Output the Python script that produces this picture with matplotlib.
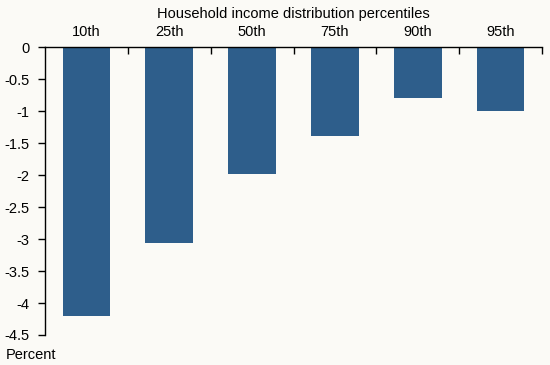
import matplotlib
matplotlib.use("Agg")
import matplotlib.pyplot as plt
from matplotlib.ticker import FuncFormatter

# data
categories = ["10th", "25th", "50th", "75th", "90th", "95th"]
values = [-4.21, -3.06, -1.98, -1.38, -0.79, -0.99]
yticks = [0, -0.5, -1, -1.5, -2, -2.5, -3, -3.5, -4, -4.5]

BG = "#fbfaf6"
BAR = "#2e5e8b"
plt.rcParams["font.family"] = ["Liberation Sans", "DejaVu Sans"]

fig = plt.figure(figsize=(5.5, 3.65), dpi=100, facecolor=BG)
ax = fig.add_axes([0.0818, 0.0822, 0.9037, 0.7877], facecolor=BG)

x = list(range(len(categories)))
ax.bar(x, values, width=0.575, color=BAR, zorder=2)

ax.set_xlim(-0.5, len(categories) - 0.5)
ax.set_ylim(-4.5, 0)

# category labels on top, ticks at category boundaries
ax.xaxis.tick_top()
ax.set_xticks(x)
ax.set_xticklabels(categories, fontsize=10.5)
ax.set_xticks([i + 0.5 for i in x], minor=True)
ax.tick_params(axis="x", which="major", length=0, pad=6)
ax.tick_params(axis="x", which="minor", direction="in", length=5, width=1)

ax.set_yticks(yticks)
ax.yaxis.set_major_formatter(FuncFormatter(lambda v, p: f"{v:g}"))
ax.tick_params(axis="y", direction="out", length=5, width=1, labelsize=10.5, pad=6)

for s in ["right", "bottom"]:
    ax.spines[s].set_visible(False)
for s in ["top", "left"]:
    ax.spines[s].set_linewidth(1)

fig.text(0.534, 0.962, "Household income distribution percentiles",
         ha="center", va="center", fontsize=10.5)
fig.text(0.011, 0.027, "Percent", ha="left", va="center", fontsize=10.5)

fig.savefig("out.png", dpi=100, facecolor=BG)
